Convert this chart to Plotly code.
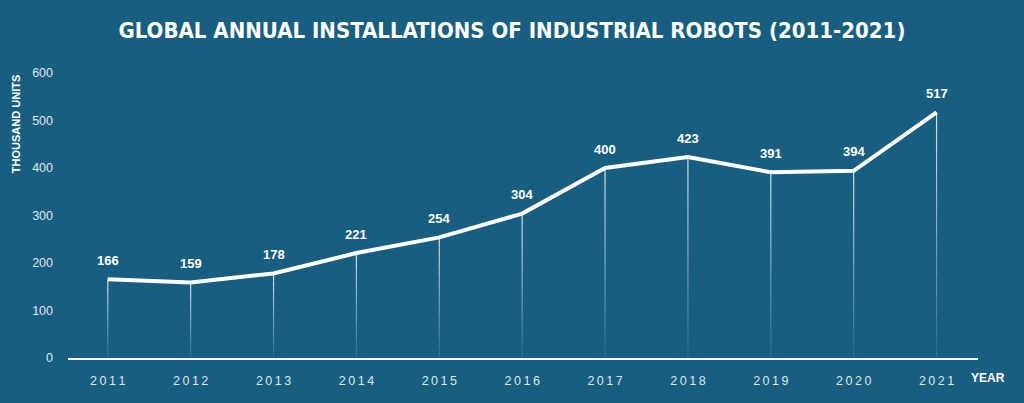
import plotly.graph_objects as go

years = [2011, 2012, 2013, 2014, 2015, 2016, 2017, 2018, 2019, 2020, 2021]
installs = [166, 159, 178, 221, 254, 304, 400, 423, 391, 394, 517]
year_labels = ["\u2009".join(str(y)) for y in years]

BG = "#175e80"
fig = go.Figure()

# fading drop lines from each point down to the axis
steps = 12
for y, v in zip(years, installs):
    for i in range(steps):
        y0 = v * i / steps
        y1 = v * (i + 1) / steps
        fig.add_trace(go.Scatter(
            x=[y, y], y=[y0, y1], mode="lines",
            line=dict(color=f"rgba(255,255,255,{0.05 + 0.75 * (i + 1) / steps:.2f})", width=1.2),
            hoverinfo="skip", showlegend=False
        ))

fig.add_trace(go.Scatter(
    x=years, y=installs,
    mode="lines",
    line=dict(color="white", width=4),
    showlegend=False
))

# value labels above each point
for y, v in zip(years, installs):
    fig.add_annotation(x=y, y=v, text=f"<b>{v}</b>", showarrow=False,
                       yshift=19, font=dict(family="Liberation Sans", size=13, color="white"))

fig.add_annotation(text="<b>THOUSAND UNITS</b>", xref="paper", yref="paper",
                   x=-0.057, y=1.0, xanchor="center", yanchor="top", textangle=-90,
                   showarrow=False, font=dict(family="Liberation Sans", size=11, color="white"))
fig.add_annotation(text="<b>YEAR</b>", xref="paper", yref="paper",
                   x=0.99, y=-0.07, xanchor="left", yanchor="middle",
                   showarrow=False, font=dict(family="Liberation Sans", size=12, color="white"))

fig.update_layout(
    title=dict(text="<b>GLOBAL ANNUAL INSTALLATIONS OF INDUSTRIAL ROBOTS (2011-2021)</b>",
               x=0.5, xanchor="center", y=0.925, yanchor="middle",
               font=dict(family="DejaVu Sans Condensed", size=22, color="white")),
    width=1024, height=403,
    paper_bgcolor=BG, plot_bgcolor=BG,
    margin=dict(l=68, r=46, t=73, b=45),
    font=dict(family="Liberation Sans", color="#dfe6ea")
)
fig.update_xaxes(
    range=[2010.52, 2021.5], tickvals=years, ticktext=year_labels,
    showgrid=False, zeroline=False, showline=True, linecolor="white", linewidth=2,
    ticks="", ticklabelstandoff=10, tickfont=dict(size=12.5, color="#dfe6ea")
)
fig.update_yaxes(
    range=[0, 600], dtick=100, showgrid=False, zeroline=False, showline=False,
    ticks="", ticklabelstandoff=14, tickfont=dict(size=12.5, color="#dfe6ea")
)

fig.write_html("out.html", config={"displayModeBar": False},
               post_script="document.body.style.margin='0';")
